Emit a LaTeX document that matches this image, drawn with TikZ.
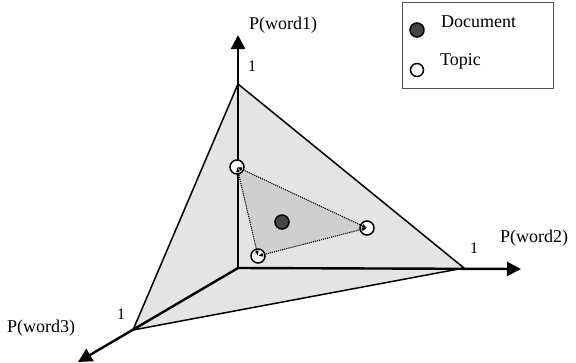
\documentclass[tikz,border=0pt]{standalone}
\usepackage{fontspec}
\setmainfont{Liberation Serif}
\usetikzlibrary{arrows.meta}
\definecolor{outerfill}{HTML}{E4E4E4}
\definecolor{innerfill}{HTML}{CFCFCF}
\definecolor{docfill}{HTML}{454545}
\definecolor{boxline}{HTML}{555555}
\tikzset{
  axisline/.style={line width=2.4pt, -{Triangle[length=14pt,width=14pt]}},
  edgeline/.style={line width=1.5pt, line join=round},
  topicdot/.style={circle, draw, line width=1.5pt, fill=white, minimum size=14pt, inner sep=0pt},
  docdot/.style={circle, draw, line width=1.5pt, fill=docfill, minimum size=14pt, inner sep=0pt},
  lbl/.style={inner sep=0pt, anchor=base west, font=\fontsize{18}{18}\selectfont},
  onelbl/.style={inner sep=0pt, anchor=base west, font=\fontsize{16}{16}\selectfont},
  dotedge/.style={densely dotted, line width=1.1pt, {Latex[length=5pt,width=4pt]}-{Latex[length=5pt,width=4pt]}}
}
\begin{document}
\begin{tikzpicture}[x=1pt,y=-1pt]
\useasboundingbox (0,0) rectangle (576,362);
% key points
\coordinate (O) at (238,268);
\coordinate (A) at (238,84);
\coordinate (B) at (464,268);
\coordinate (C) at (133,330);
\coordinate (Atip) at (238,35);
\coordinate (Btip) at (521,269);
\coordinate (Ctip) at (78,362);
% simplex
\fill[outerfill] (A) -- (B) -- (C) -- cycle;
\draw[edgeline] (A) -- (B) -- (C) -- cycle;
% inner triangle
\coordinate (T1) at (237,167);
\coordinate (T2) at (367,228);
\coordinate (T3) at (258,256);
\fill[innerfill] (T1) -- (T2) -- (T3) -- cycle;
% axes
\draw[axisline] (O) -- (Atip);
\draw[axisline] (O) -- (Btip);
\draw[axisline] (O) -- (Ctip);
% dots
\node[topicdot] (t1) at (T1) {};
\node[topicdot] (t2) at (T2) {};
\node[topicdot] (t3) at (T3) {};
\node[docdot] (doc) at (282,222) {};
% dotted edges
\draw[dotedge] (t1.center) -- (t2.center);
\draw[dotedge] (t2.center) -- (t3.center);
\draw[dotedge] (t3.center) -- (t1.center);
% labels
\node[lbl] (w1) at (249,29) {P(word1)};
\node[lbl] (w2) at (500,242) {P(word2)};
\node[lbl] (w3) at (7,332) {P(word3)};
\node[onelbl] (o1) at (248,71) {1};
\node[onelbl] (o2) at (470,253) {1};
\node[onelbl] (o3) at (117,319) {1};
% legend
\draw[boxline, line width=1pt] (402,2) rectangle (553,88);
\node[docdot, minimum size=14pt] (ldoc) at (417,30) {};
\node[topicdot, minimum size=13pt] (ltop) at (417,70) {};
\node[lbl] (ldoctxt) at (441,27) {Document};
\node[lbl] (ltoptxt) at (440,65) {Topic};
\end{tikzpicture}
\end{document}
